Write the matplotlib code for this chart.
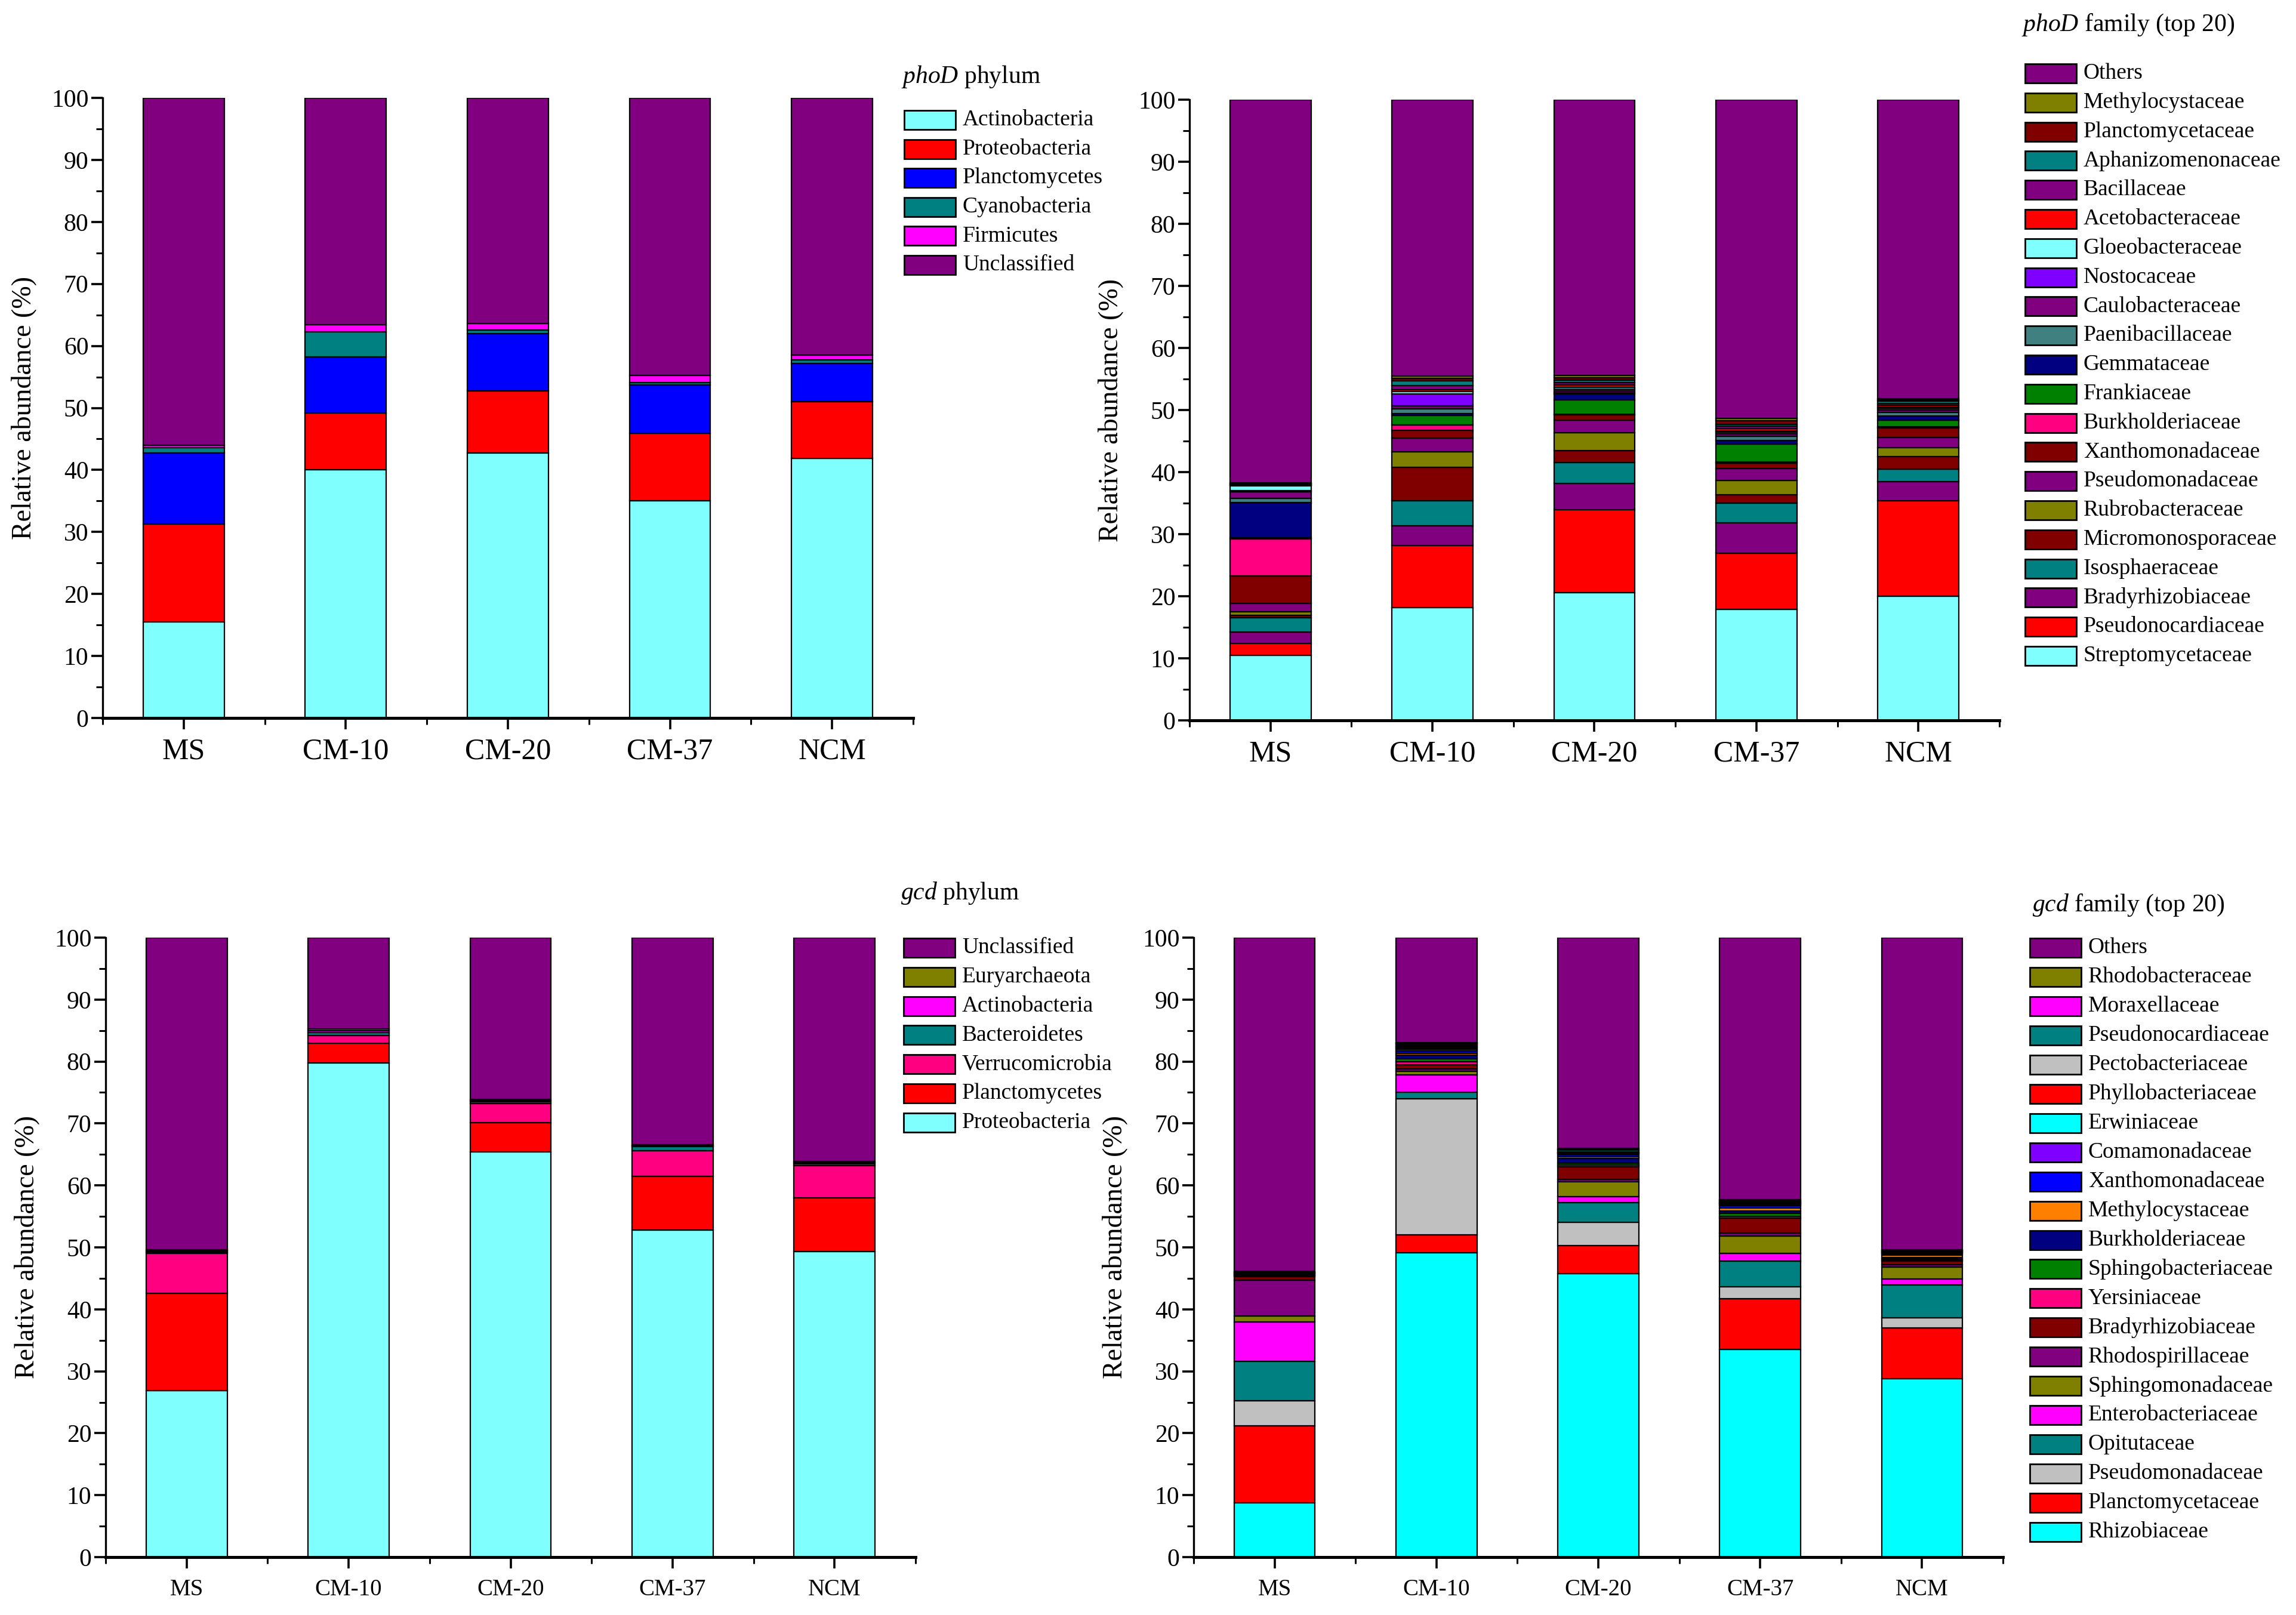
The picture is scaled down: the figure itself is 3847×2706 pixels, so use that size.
import matplotlib

matplotlib.use("Agg")
import matplotlib.pyplot as plt
from matplotlib.patches import Rectangle
import numpy as np

plt.rcParams["font.family"] = ["Liberation Serif", "DejaVu Serif"]
plt.rcParams["mathtext.fontset"] = "custom"
plt.rcParams["mathtext.rm"] = "Liberation Serif"
plt.rcParams["mathtext.it"] = "Liberation Serif:italic"

samples = ["MS", "CM-10", "CM-20", "CM-37", "NCM"]

# Origin-style palette
LCYAN = "#80FFFF"
RED = "#FF0000"
BLUE = "#0000FF"
TEAL = "#008080"
MAGENTA = "#FF00FF"
PURPLE = "#800080"
OLIVE = "#808000"
MAROON = "#800000"
PINK = "#FF0080"
GREEN = "#008000"
NAVY = "#000080"
SLATE = "#408080"
VIOLET = "#8000FF"
CYAN = "#00FFFF"
GRAY = "#C0C0C0"
ORANGE = "#FF8000"

# ---- phoD phylum (remainder = Unclassified) ----
phod_phylum_names = ["Actinobacteria", "Proteobacteria", "Planctomycetes",
                     "Cyanobacteria", "Firmicutes", "Unclassified"]
phod_phylum_colors = [LCYAN, RED, BLUE, TEAL, MAGENTA, PURPLE]
phod_phylum_ms = [15.5, 15.8, 11.4, 0.9, 0.4]
phod_phylum_cm10 = [40.0, 9.2, 9.0, 4.1, 1.1]
phod_phylum_cm20 = [42.7, 10.0, 9.3, 0.6, 1.0]
phod_phylum_cm37 = [35.0, 10.9, 7.8, 0.4, 1.1]
phod_phylum_ncm = [41.9, 9.1, 6.2, 0.5, 0.8]

# ---- phoD family, stacking order bottom -> top (remainder = Others) ----
phod_family_names = ["Streptomycetaceae", "Pseudonocardiaceae", "Bradyrhizobiaceae",
                     "Isosphaeraceae", "Micromonosporaceae", "Rubrobacteraceae",
                     "Pseudomonadaceae", "Xanthomonadaceae", "Burkholderiaceae",
                     "Frankiaceae", "Gemmataceae", "Paenibacillaceae",
                     "Caulobacteraceae", "Nostocaceae", "Gloeobacteraceae",
                     "Acetobacteraceae", "Bacillaceae", "Aphanizomenonaceae",
                     "Planctomycetaceae", "Methylocystaceae", "Others"]
phod_family_colors = [LCYAN, RED, PURPLE, TEAL, MAROON, OLIVE, PURPLE, MAROON, PINK,
                      GREEN, NAVY, SLATE, PURPLE, VIOLET, LCYAN, RED, PURPLE, TEAL,
                      MAROON, OLIVE, PURPLE]
phod_family_ms = [10.5, 1.9, 1.8, 2.3, 0.4, 0.6, 1.3, 4.5, 5.9, 0.2,
                  5.7, 0.7, 1.0, 0.2, 0.8, 0.1, 0.1, 0.1, 0.1, 0.1]
phod_family_cm10 = [18.2, 10.0, 3.1, 4.1, 5.4, 2.5, 2.2, 1.2, 0.9, 1.5,
                    0.3, 0.8, 0.5, 1.9, 0.4, 0.3, 0.6, 0.8, 0.4, 0.4]
phod_family_cm20 = [20.6, 13.3, 4.3, 3.3, 2.0, 2.8, 2.1, 0.8, 0.1, 2.3,
                    1.0, 0.2, 0.3, 0.3, 0.3, 0.3, 0.4, 0.4, 0.4, 0.4]
phod_family_cm37 = [17.9, 9.0, 4.9, 3.2, 1.3, 2.4, 1.9, 0.8, 0.2, 2.9,
                    0.6, 0.7, 0.4, 0.2, 0.2, 0.4, 0.4, 0.3, 0.6, 0.4]
phod_family_ncm = [20.0, 15.4, 3.1, 2.0, 2.0, 1.4, 1.7, 1.5, 0.2, 1.1,
                   0.6, 0.6, 0.4, 0.3, 0.2, 0.3, 0.3, 0.3, 0.2, 0.2]

# ---- gcd phylum, bottom -> top (remainder = Unclassified) ----
gcd_phylum_names = ["Proteobacteria", "Planctomycetes", "Verrucomicrobia",
                    "Bacteroidetes", "Actinobacteria", "Euryarchaeota", "Unclassified"]
gcd_phylum_colors = [LCYAN, RED, PINK, TEAL, MAGENTA, OLIVE, PURPLE]
gcd_phylum_ms = [26.9, 15.7, 6.4, 0.2, 0.2, 0.2]
gcd_phylum_cm10 = [79.8, 3.1, 1.3, 0.5, 0.3, 0.3]
gcd_phylum_cm20 = [65.4, 4.7, 3.1, 0.3, 0.2, 0.2]
gcd_phylum_cm37 = [52.8, 8.7, 4.1, 0.7, 0.1, 0.2]
gcd_phylum_ncm = [49.3, 8.7, 5.2, 0.3, 0.2, 0.2]

# ---- gcd family, bottom -> top (remainder = Others) ----
gcd_family_names = ["Rhizobiaceae", "Planctomycetaceae", "Pseudomonadaceae",
                    "Opitutaceae", "Enterobacteriaceae", "Sphingomonadaceae",
                    "Rhodospirillaceae", "Bradyrhizobiaceae", "Yersiniaceae",
                    "Sphingobacteriaceae", "Burkholderiaceae", "Methylocystaceae",
                    "Xanthomonadaceae", "Comamonadaceae", "Erwiniaceae",
                    "Phyllobacteriaceae", "Pectobacteriaceae", "Pseudonocardiaceae",
                    "Moraxellaceae", "Rhodobacteraceae", "Others"]
gcd_family_colors = [CYAN, RED, GRAY, TEAL, MAGENTA, OLIVE, PURPLE, MAROON, PINK,
                     GREEN, NAVY, ORANGE, BLUE, VIOLET, CYAN, RED, GRAY, TEAL,
                     MAGENTA, OLIVE, PURPLE]
gcd_family_ms = [8.8, 12.4, 4.0, 6.4, 6.4, 0.9, 5.8, 0.6, 0.1, 0.1,
                 0.1, 0.05, 0.1, 0.05, 0.05, 0.05, 0.05, 0.1, 0.05, 0.05]
gcd_family_cm10 = [49.1, 2.9, 22.0, 1.0, 2.8, 0.6, 0.4, 0.7, 0.5, 0.4,
                   0.6, 0.3, 0.4, 0.3, 0.2, 0.2, 0.2, 0.2, 0.1, 0.1]
gcd_family_cm20 = [45.8, 4.5, 3.7, 3.2, 1.0, 2.4, 0.4, 2.0, 0.3, 0.3,
                   0.8, 0.2, 0.3, 0.2, 0.1, 0.1, 0.1, 0.3, 0.1, 0.2]
gcd_family_cm37 = [33.5, 8.2, 1.9, 4.2, 1.2, 2.8, 0.5, 2.4, 0.3, 0.5,
                   0.4, 0.5, 0.3, 0.2, 0.1, 0.1, 0.1, 0.2, 0.1, 0.2]
gcd_family_ncm = [28.8, 8.2, 1.6, 5.3, 1.0, 1.9, 0.4, 0.6, 0.2, 0.2,
                  0.2, 0.3, 0.2, 0.1, 0.1, 0.1, 0.1, 0.1, 0.1, 0.1]

W, H = 3848, 2706
fig = plt.figure(figsize=(W / 100, H / 100), dpi=100)


def px_axes(left, top, bottom, width):
    return fig.add_axes([left / W, 1 - bottom / H, width / W, (bottom - top) / H])


def stacked(ax, rows, colors):
    vals = np.array(rows, dtype=float)
    vals = np.column_stack([vals, 100 - vals.sum(axis=1)])
    x = np.arange(1, len(samples) + 1)
    base = np.zeros(len(samples))
    for j, c in enumerate(colors):
        ax.bar(x, vals[:, j], 0.5, bottom=base, color=c, edgecolor="black",
               linewidth=1.6, zorder=2)
        base += vals[:, j]


def style(ax, xsize, xpad):
    x = np.arange(1, len(samples) + 1)
    ax.set_xlim(0.5, 5.5)
    ax.set_ylim(0, 100)
    ax.set_xticks(x)
    ax.set_xticklabels(samples, fontsize=xsize)
    ax.set_xticks(np.arange(0.5, 6.0, 1.0), minor=True)
    ax.set_yticks(np.arange(0, 101, 10))
    ax.set_yticks(np.arange(5, 100, 10), minor=True)
    ax.tick_params(axis="y", labelsize=30, pad=3)
    ax.tick_params(axis="x", which="major", pad=xpad)
    ax.tick_params(which="major", direction="out", length=14, width=2.6)
    ax.tick_params(which="minor", direction="out", length=8, width=2.2)
    for s in ("top", "right"):
        ax.spines[s].set_visible(False)
    ax.spines["left"].set_linewidth(2.4)
    ax.spines["bottom"].set_linewidth(3.6)
    ax.set_ylabel("Relative abundance (%)", fontsize=33)
    ax.yaxis.set_label_coords(-0.082, 0.5)


def legend(title, names, colors, tx, ty, px, py, step, tsize=30, size=27):
    fig.text(tx / W, 1 - ty / H, title, fontsize=tsize, va="center", ha="left")
    for i, (n, c) in enumerate(zip(names, colors)):
        yc = py + i * step
        fig.add_artist(Rectangle((px / W, 1 - (yc + 16) / H), 86 / W, 32 / H,
                                 transform=fig.transFigure, facecolor=c,
                                 edgecolor="black", linewidth=2.0))
        fig.text((px + 98) / W, 1 - yc / H, n, fontsize=size, va="center", ha="left")


# top-left: phoD phylum
ax1 = px_axes(172, 164, 1203, 1358)
stacked(ax1, [phod_phylum_ms, phod_phylum_cm10, phod_phylum_cm20,
              phod_phylum_cm37, phod_phylum_ncm], phod_phylum_colors)
style(ax1, 36, 10)
legend(r"$\it{phoD}$ phylum", phod_phylum_names, phod_phylum_colors,
       1510, 128, 1515, 201, 48.6)

# top-right: phoD family
ax2 = px_axes(1993, 167, 1207, 1357)
stacked(ax2, [phod_family_ms, phod_family_cm10, phod_family_cm20,
              phod_family_cm37, phod_family_ncm], phod_family_colors)
style(ax2, 36, 10)
legend(r"$\it{phoD}$ family (top 20)", phod_family_names[::-1],
       phod_family_colors[::-1], 3387, 42, 3393, 123, 48.8)

# bottom-left: gcd phylum
ax3 = px_axes(177, 1571, 2609, 1357)
stacked(ax3, [gcd_phylum_ms, gcd_phylum_cm10, gcd_phylum_cm20,
              gcd_phylum_cm37, gcd_phylum_ncm], gcd_phylum_colors)
style(ax3, 28, 12)
legend(r"$\it{gcd}$ phylum", gcd_phylum_names[::-1], gcd_phylum_colors[::-1],
       1509, 1497, 1514, 1588, 48.8)

# bottom-right: gcd family
ax4 = px_axes(2000, 1571, 2609, 1356)
stacked(ax4, [gcd_family_ms, gcd_family_cm10, gcd_family_cm20,
              gcd_family_cm37, gcd_family_ncm], gcd_family_colors)
style(ax4, 28, 12)
legend(r"$\it{gcd}$ family (top 20)", gcd_family_names[::-1],
       gcd_family_colors[::-1], 3405, 1517, 3401, 1588, 48.95)

fig.savefig("out.png", dpi=100, facecolor="white")
